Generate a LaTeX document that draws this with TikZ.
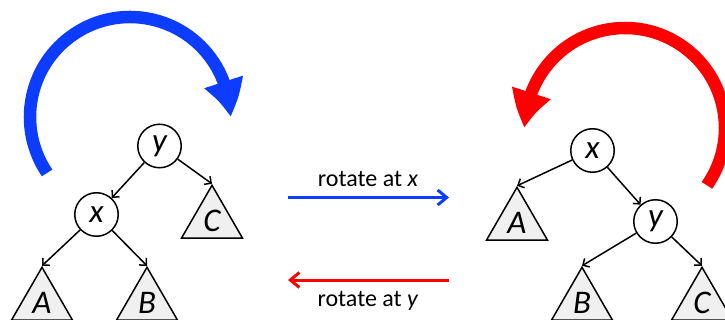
\documentclass[tikz,border=0pt]{standalone}
\usepackage{fontspec}
\setmainfont{Carlito}
\usetikzlibrary{arrows.meta,shapes.geometric,bending}
\definecolor{rotblue}{RGB}{12,60,255}
\definecolor{rotred}{RGB}{255,0,0}
\definecolor{subfill}{RGB}{240,240,240}
\tikzset{
  keynode/.style={circle,draw=black,line width=1.5pt,fill=white,minimum size=43.5pt,inner sep=0pt,
    font=\fontsize{33}{35}\selectfont\itshape},
  subtree/.style={regular polygon,regular polygon sides=3,draw=black,line width=1.5pt,fill=subfill,
    minimum size=70.4pt,inner sep=0pt,font=\fontsize{33}{35}\selectfont\itshape},
  edge/.style={line width=1.5pt,-{Straight Barb[length=5pt,width=10pt]}},
  bigarc/.style={line width=12.5pt,-{Triangle[bend,width=38pt,length=36pt]}},
  rotarrow/.style={line width=3pt,-{Straight Barb[length=9pt,width=15pt]}},
  rotlabel/.style={anchor=base,font=\fontsize{24}{28}\selectfont,inner sep=0pt}
}
\begin{document}
\begin{tikzpicture}[x=1pt,y=-1pt]
\useasboundingbox (0,0) rectangle (725,320);
\clip (0,0) rectangle (725,320);
% left arc
\coordinate (cL) at (130,117);
\draw[bigarc,rotblue] (cL) ++(146:100) arc[start angle=146,end angle=360,radius=100];
% right arc
\coordinate (cR) at (625,128);
\draw[bigarc,rotred] (cR) ++(35:100) arc[start angle=35,end angle=-180,radius=100];
% left tree
\node[keynode] (yL) at (159.5,146) {y};
\node[keynode] (xL) at (96.5,214.5) {x};
\node[subtree] (AL) at (42,302.5) {A};
\node[subtree] (BL) at (147,302.5) {B};
\node[subtree] (CL) at (212,220.5) {C};
\draw[edge] (yL) -- (xL);
\draw[edge] (yL) -- (CL.corner 1);
\draw[edge] (xL) -- (AL.corner 1);
\draw[edge] (xL) -- (BL.corner 1);
% right tree
\node[keynode] (xR) at (592.5,150.5) {x};
\node[keynode] (yR) at (655.5,221.5) {y};
\node[subtree] (AR) at (517,222.5) {A};
\node[subtree] (BR) at (582,302.5) {B};
\node[subtree] (CR) at (702,302.5) {C};
\draw[edge] (xR) -- (AR.corner 1);
\draw[edge] (xR) -- (yR);
\draw[edge] (yR) -- (BR.corner 1);
\draw[edge] (yR) -- (CR.corner 1);
% rotation arrows
\coordinate (b1) at (288,197.5);
\coordinate (b2) at (449,197.5);
\coordinate (r1) at (449,280);
\coordinate (r2) at (288,280);
\draw[rotarrow,rotblue] (b1) -- (b2);
\draw[rotarrow,rotred] (r1) -- (r2);
\node[rotlabel] (lx) at (368,187) {rotate at \textit{x}};
\node[rotlabel] (ly) at (368,306) {rotate at \textit{y}};
\end{tikzpicture}
\end{document}
